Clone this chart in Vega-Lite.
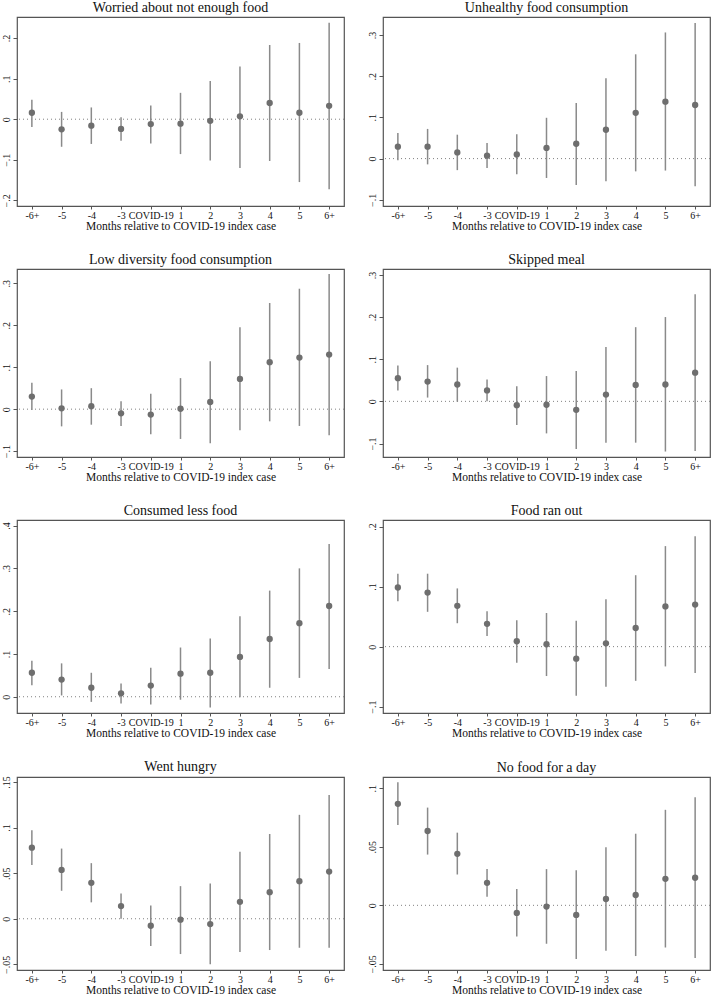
{
  "$schema": "https://vega.github.io/schema/vega-lite/v6.json",
  "padding": {"left": 0, "top": 0, "right": 0, "bottom": 0},
  "background": "white",
  "datasets": {
    "d": [
      {"panel": "worried", "month": "-6+", "coef": 0.016, "lo": -0.019, "hi": 0.048},
      {"panel": "worried", "month": "-5", "coef": -0.025, "lo": -0.068, "hi": 0.018},
      {"panel": "worried", "month": "-4", "coef": -0.016, "lo": -0.061, "hi": 0.029},
      {"panel": "worried", "month": "-3", "coef": -0.024, "lo": -0.053, "hi": 0.005},
      {"panel": "worried", "month": "COVID-19", "coef": -0.012, "lo": -0.060, "hi": 0.034},
      {"panel": "worried", "month": "1", "coef": -0.011, "lo": -0.086, "hi": 0.065},
      {"panel": "worried", "month": "2", "coef": -0.004, "lo": -0.102, "hi": 0.094},
      {"panel": "worried", "month": "3", "coef": 0.007, "lo": -0.120, "hi": 0.130},
      {"panel": "worried", "month": "4", "coef": 0.040, "lo": -0.103, "hi": 0.183},
      {"panel": "worried", "month": "5", "coef": 0.016, "lo": -0.155, "hi": 0.188},
      {"panel": "worried", "month": "6+", "coef": 0.033, "lo": -0.173, "hi": 0.238},

      {"panel": "unhealthy", "month": "-6+", "coef": 0.029, "lo": -0.004, "hi": 0.062},
      {"panel": "unhealthy", "month": "-5", "coef": 0.029, "lo": -0.014, "hi": 0.072},
      {"panel": "unhealthy", "month": "-4", "coef": 0.015, "lo": -0.028, "hi": 0.058},
      {"panel": "unhealthy", "month": "-3", "coef": 0.007, "lo": -0.023, "hi": 0.038},
      {"panel": "unhealthy", "month": "COVID-19", "coef": 0.010, "lo": -0.038, "hi": 0.059},
      {"panel": "unhealthy", "month": "1", "coef": 0.026, "lo": -0.047, "hi": 0.099},
      {"panel": "unhealthy", "month": "2", "coef": 0.036, "lo": -0.064, "hi": 0.135},
      {"panel": "unhealthy", "month": "3", "coef": 0.070, "lo": -0.055, "hi": 0.195},
      {"panel": "unhealthy", "month": "4", "coef": 0.111, "lo": -0.031, "hi": 0.253},
      {"panel": "unhealthy", "month": "5", "coef": 0.138, "lo": -0.029, "hi": 0.306},
      {"panel": "unhealthy", "month": "6+", "coef": 0.130, "lo": -0.067, "hi": 0.329},

      {"panel": "lowdiv", "month": "-6+", "coef": 0.030, "lo": -0.002, "hi": 0.063},
      {"panel": "lowdiv", "month": "-5", "coef": 0.002, "lo": -0.041, "hi": 0.047},
      {"panel": "lowdiv", "month": "-4", "coef": 0.007, "lo": -0.037, "hi": 0.050},
      {"panel": "lowdiv", "month": "-3", "coef": -0.010, "lo": -0.040, "hi": 0.019},
      {"panel": "lowdiv", "month": "COVID-19", "coef": -0.013, "lo": -0.060, "hi": 0.037},
      {"panel": "lowdiv", "month": "1", "coef": 0.001, "lo": -0.071, "hi": 0.074},
      {"panel": "lowdiv", "month": "2", "coef": 0.017, "lo": -0.081, "hi": 0.114},
      {"panel": "lowdiv", "month": "3", "coef": 0.072, "lo": -0.050, "hi": 0.195},
      {"panel": "lowdiv", "month": "4", "coef": 0.112, "lo": -0.029, "hi": 0.253},
      {"panel": "lowdiv", "month": "5", "coef": 0.123, "lo": -0.040, "hi": 0.287},
      {"panel": "lowdiv", "month": "6+", "coef": 0.130, "lo": -0.062, "hi": 0.322},

      {"panel": "skipped", "month": "-6+", "coef": 0.055, "lo": 0.026, "hi": 0.085},
      {"panel": "skipped", "month": "-5", "coef": 0.047, "lo": 0.009, "hi": 0.086},
      {"panel": "skipped", "month": "-4", "coef": 0.040, "lo": -0.001, "hi": 0.080},
      {"panel": "skipped", "month": "-3", "coef": 0.026, "lo": 0.000, "hi": 0.052},
      {"panel": "skipped", "month": "COVID-19", "coef": -0.009, "lo": -0.056, "hi": 0.036},
      {"panel": "skipped", "month": "1", "coef": -0.008, "lo": -0.076, "hi": 0.060},
      {"panel": "skipped", "month": "2", "coef": -0.020, "lo": -0.113, "hi": 0.072},
      {"panel": "skipped", "month": "3", "coef": 0.016, "lo": -0.098, "hi": 0.129},
      {"panel": "skipped", "month": "4", "coef": 0.039, "lo": -0.098, "hi": 0.176},
      {"panel": "skipped", "month": "5", "coef": 0.040, "lo": -0.119, "hi": 0.200},
      {"panel": "skipped", "month": "6+", "coef": 0.068, "lo": -0.118, "hi": 0.254},

      {"panel": "less", "month": "-6+", "coef": 0.056, "lo": 0.027, "hi": 0.084},
      {"panel": "less", "month": "-5", "coef": 0.040, "lo": 0.003, "hi": 0.078},
      {"panel": "less", "month": "-4", "coef": 0.021, "lo": -0.012, "hi": 0.056},
      {"panel": "less", "month": "-3", "coef": 0.008, "lo": -0.016, "hi": 0.031},
      {"panel": "less", "month": "COVID-19", "coef": 0.026, "lo": -0.018, "hi": 0.068},
      {"panel": "less", "month": "1", "coef": 0.054, "lo": -0.007, "hi": 0.115},
      {"panel": "less", "month": "2", "coef": 0.056, "lo": -0.025, "hi": 0.136},
      {"panel": "less", "month": "3", "coef": 0.093, "lo": -0.001, "hi": 0.188},
      {"panel": "less", "month": "4", "coef": 0.135, "lo": 0.021, "hi": 0.248},
      {"panel": "less", "month": "5", "coef": 0.172, "lo": 0.044, "hi": 0.300},
      {"panel": "less", "month": "6+", "coef": 0.212, "lo": 0.065, "hi": 0.357},

      {"panel": "ranout", "month": "-6+", "coef": 0.0985, "lo": 0.0755, "hi": 0.1215},
      {"panel": "ranout", "month": "-5", "coef": 0.090, "lo": 0.058, "hi": 0.1215},
      {"panel": "ranout", "month": "-4", "coef": 0.068, "lo": 0.039, "hi": 0.097},
      {"panel": "ranout", "month": "-3", "coef": 0.038, "lo": 0.0175, "hi": 0.059},
      {"panel": "ranout", "month": "COVID-19", "coef": 0.009, "lo": -0.027, "hi": 0.044},
      {"panel": "ranout", "month": "1", "coef": 0.004, "lo": -0.049, "hi": 0.056},
      {"panel": "ranout", "month": "2", "coef": -0.020, "lo": -0.082, "hi": 0.043},
      {"panel": "ranout", "month": "3", "coef": 0.0055, "lo": -0.067, "hi": 0.079},
      {"panel": "ranout", "month": "4", "coef": 0.031, "lo": -0.057, "hi": 0.119},
      {"panel": "ranout", "month": "5", "coef": 0.067, "lo": -0.033, "hi": 0.1675},
      {"panel": "ranout", "month": "6+", "coef": 0.070, "lo": -0.044, "hi": 0.184},

      {"panel": "hungry", "month": "-6+", "coef": 0.078, "lo": 0.059, "hi": 0.097},
      {"panel": "hungry", "month": "-5", "coef": 0.0536, "lo": 0.0307, "hi": 0.077},
      {"panel": "hungry", "month": "-4", "coef": 0.0394, "lo": 0.018, "hi": 0.061},
      {"panel": "hungry", "month": "-3", "coef": 0.0139, "lo": 0.000, "hi": 0.0277},
      {"panel": "hungry", "month": "COVID-19", "coef": -0.0077, "lo": -0.030, "hi": 0.0146},
      {"panel": "hungry", "month": "1", "coef": -0.001, "lo": -0.0387, "hi": 0.0358},
      {"panel": "hungry", "month": "2", "coef": -0.0058, "lo": -0.050, "hi": 0.0387},
      {"panel": "hungry", "month": "3", "coef": 0.0186, "lo": -0.0365, "hi": 0.0734},
      {"panel": "hungry", "month": "4", "coef": 0.0292, "lo": -0.0343, "hi": 0.093},
      {"panel": "hungry", "month": "5", "coef": 0.0412, "lo": -0.0318, "hi": 0.114},
      {"panel": "hungry", "month": "6+", "coef": 0.0518, "lo": -0.0318, "hi": 0.1358},

      {"panel": "noday", "month": "-6+", "coef": 0.0866, "lo": 0.0685, "hi": 0.105},
      {"panel": "noday", "month": "-5", "coef": 0.0634, "lo": 0.0433, "hi": 0.0834},
      {"panel": "noday", "month": "-4", "coef": 0.0439, "lo": 0.0263, "hi": 0.062},
      {"panel": "noday", "month": "-3", "coef": 0.0192, "lo": 0.0074, "hi": 0.0309},
      {"panel": "noday", "month": "COVID-19", "coef": -0.0065, "lo": -0.0266, "hi": 0.0139},
      {"panel": "noday", "month": "1", "coef": -0.0011, "lo": -0.0328, "hi": 0.0309},
      {"panel": "noday", "month": "2", "coef": -0.0082, "lo": -0.0459, "hi": 0.030},
      {"panel": "noday", "month": "3", "coef": 0.0054, "lo": -0.0388, "hi": 0.0495},
      {"panel": "noday", "month": "4", "coef": 0.0088, "lo": -0.0433, "hi": 0.0611},
      {"panel": "noday", "month": "5", "coef": 0.0226, "lo": -0.036, "hi": 0.0815},
      {"panel": "noday", "month": "6+", "coef": 0.0235, "lo": -0.045, "hi": 0.0923}
    ]
  },
  "data": {"name": "d"},
  "spacing": 19,
  "vconcat": [
    {
      "spacing": 20,
      "hconcat": [
        {
          "title": "Worried about not enough food",
          "width": 327, "height": 189,
          "transform": [{"filter": {"field": "panel", "equal": "worried"}}],
          "layer": [
            {"transform": [{"aggregate": [{"op": "count", "as": "n"}]}],
             "mark": {"type": "rule", "color": "#808080", "strokeWidth": 1, "strokeDash": [1, 3]},
             "encoding": {"y": {"datum": 0, "type": "quantitative", "axis": {"title": null, "values": [-0.2, -0.1, 0, 0.1, 0.2]}}}},
            {"mark": {"type": "rule", "color": "#8a8a8a", "strokeWidth": 1.5},
             "encoding": {
               "x": {"field": "month", "type": "ordinal", "scale": {"type": "point", "padding": 0.5, "domain": ["-6+", "-5", "-4", "-3", "COVID-19", "1", "2", "3", "4", "5", "6+"]}, "axis": {"title": "Months relative to COVID-19 index case"}},
               "y": {"field": "lo", "type": "quantitative", "scale": {"domain": [-0.214, 0.252], "nice": false, "zero": false}, "axis": {"title": null, "values": [-0.2, -0.1, 0, 0.1, 0.2]}},
               "y2": {"field": "hi"}}},
            {"mark": {"type": "circle", "color": "#6e6e6e", "size": 40, "opacity": 1},
             "encoding": {"x": {"field": "month", "type": "ordinal", "axis": {"title": "Months relative to COVID-19 index case"}}, "y": {"field": "coef", "type": "quantitative", "axis": {"title": null, "values": [-0.2, -0.1, 0, 0.1, 0.2]}}}}
          ]
        },
        {
          "title": "Unhealthy food consumption",
          "width": 327, "height": 189,
          "transform": [{"filter": {"field": "panel", "equal": "unhealthy"}}],
          "layer": [
            {"transform": [{"aggregate": [{"op": "count", "as": "n"}]}],
             "mark": {"type": "rule", "color": "#808080", "strokeWidth": 1, "strokeDash": [1, 3]},
             "encoding": {"y": {"datum": 0, "type": "quantitative", "axis": {"title": null, "values": [-0.1, 0, 0.1, 0.2, 0.3]}}}},
            {"mark": {"type": "rule", "color": "#8a8a8a", "strokeWidth": 1.5},
             "encoding": {
               "x": {"field": "month", "type": "ordinal", "scale": {"type": "point", "padding": 0.5, "domain": ["-6+", "-5", "-4", "-3", "COVID-19", "1", "2", "3", "4", "5", "6+"]}, "axis": {"title": "Months relative to COVID-19 index case"}},
               "y": {"field": "lo", "type": "quantitative", "scale": {"domain": [-0.115, 0.3435], "nice": false, "zero": false}, "axis": {"title": null, "values": [-0.1, 0, 0.1, 0.2, 0.3]}},
               "y2": {"field": "hi"}}},
            {"mark": {"type": "circle", "color": "#6e6e6e", "size": 40, "opacity": 1},
             "encoding": {"x": {"field": "month", "type": "ordinal", "axis": {"title": "Months relative to COVID-19 index case"}}, "y": {"field": "coef", "type": "quantitative", "axis": {"title": null, "values": [-0.1, 0, 0.1, 0.2, 0.3]}}}}
          ]
        }
      ]
    },
    {
      "spacing": 20,
      "hconcat": [
        {
          "title": "Low diversity food consumption",
          "width": 327, "height": 188,
          "transform": [{"filter": {"field": "panel", "equal": "lowdiv"}}],
          "layer": [
            {"transform": [{"aggregate": [{"op": "count", "as": "n"}]}],
             "mark": {"type": "rule", "color": "#808080", "strokeWidth": 1, "strokeDash": [1, 3]},
             "encoding": {"y": {"datum": 0, "type": "quantitative", "axis": {"title": null, "values": [-0.1, 0, 0.1, 0.2, 0.3]}}}},
            {"mark": {"type": "rule", "color": "#8a8a8a", "strokeWidth": 1.5},
             "encoding": {
               "x": {"field": "month", "type": "ordinal", "scale": {"type": "point", "padding": 0.5, "domain": ["-6+", "-5", "-4", "-3", "COVID-19", "1", "2", "3", "4", "5", "6+"]}, "axis": {"title": "Months relative to COVID-19 index case"}},
               "y": {"field": "lo", "type": "quantitative", "scale": {"domain": [-0.114, 0.334], "nice": false, "zero": false}, "axis": {"title": null, "values": [-0.1, 0, 0.1, 0.2, 0.3]}},
               "y2": {"field": "hi"}}},
            {"mark": {"type": "circle", "color": "#6e6e6e", "size": 40, "opacity": 1},
             "encoding": {"x": {"field": "month", "type": "ordinal", "axis": {"title": "Months relative to COVID-19 index case"}}, "y": {"field": "coef", "type": "quantitative", "axis": {"title": null, "values": [-0.1, 0, 0.1, 0.2, 0.3]}}}}
          ]
        },
        {
          "title": "Skipped meal",
          "width": 327, "height": 188,
          "transform": [{"filter": {"field": "panel", "equal": "skipped"}}],
          "layer": [
            {"transform": [{"aggregate": [{"op": "count", "as": "n"}]}],
             "mark": {"type": "rule", "color": "#808080", "strokeWidth": 1, "strokeDash": [1, 3]},
             "encoding": {"y": {"datum": 0, "type": "quantitative", "axis": {"title": null, "values": [-0.1, 0, 0.1, 0.2, 0.3]}}}},
            {"mark": {"type": "rule", "color": "#8a8a8a", "strokeWidth": 1.5},
             "encoding": {
               "x": {"field": "month", "type": "ordinal", "scale": {"type": "point", "padding": 0.5, "domain": ["-6+", "-5", "-4", "-3", "COVID-19", "1", "2", "3", "4", "5", "6+"]}, "axis": {"title": "Months relative to COVID-19 index case"}},
               "y": {"field": "lo", "type": "quantitative", "scale": {"domain": [-0.132, 0.314], "nice": false, "zero": false}, "axis": {"title": null, "values": [-0.1, 0, 0.1, 0.2, 0.3]}},
               "y2": {"field": "hi"}}},
            {"mark": {"type": "circle", "color": "#6e6e6e", "size": 40, "opacity": 1},
             "encoding": {"x": {"field": "month", "type": "ordinal", "axis": {"title": "Months relative to COVID-19 index case"}}, "y": {"field": "coef", "type": "quantitative", "axis": {"title": null, "values": [-0.1, 0, 0.1, 0.2, 0.3]}}}}
          ]
        }
      ]
    },
    {
      "spacing": 20,
      "hconcat": [
        {
          "title": "Consumed less food",
          "width": 327, "height": 193,
          "transform": [{"filter": {"field": "panel", "equal": "less"}}],
          "layer": [
            {"transform": [{"aggregate": [{"op": "count", "as": "n"}]}],
             "mark": {"type": "rule", "color": "#808080", "strokeWidth": 1, "strokeDash": [1, 3]},
             "encoding": {"y": {"datum": 0, "type": "quantitative", "axis": {"title": null, "values": [0, 0.1, 0.2, 0.3, 0.4]}}}},
            {"mark": {"type": "rule", "color": "#8a8a8a", "strokeWidth": 1.5},
             "encoding": {
               "x": {"field": "month", "type": "ordinal", "scale": {"type": "point", "padding": 0.5, "domain": ["-6+", "-5", "-4", "-3", "COVID-19", "1", "2", "3", "4", "5", "6+"]}, "axis": {"title": "Months relative to COVID-19 index case"}},
               "y": {"field": "lo", "type": "quantitative", "scale": {"domain": [-0.038, 0.413], "nice": false, "zero": false}, "axis": {"title": null, "values": [0, 0.1, 0.2, 0.3, 0.4]}},
               "y2": {"field": "hi"}}},
            {"mark": {"type": "circle", "color": "#6e6e6e", "size": 40, "opacity": 1},
             "encoding": {"x": {"field": "month", "type": "ordinal", "axis": {"title": "Months relative to COVID-19 index case"}}, "y": {"field": "coef", "type": "quantitative", "axis": {"title": null, "values": [0, 0.1, 0.2, 0.3, 0.4]}}}}
          ]
        },
        {
          "title": "Food ran out",
          "width": 327, "height": 193,
          "transform": [{"filter": {"field": "panel", "equal": "ranout"}}],
          "layer": [
            {"transform": [{"aggregate": [{"op": "count", "as": "n"}]}],
             "mark": {"type": "rule", "color": "#808080", "strokeWidth": 1, "strokeDash": [1, 3]},
             "encoding": {"y": {"datum": 0, "type": "quantitative", "axis": {"title": null, "values": [-0.1, 0, 0.1, 0.2]}}}},
            {"mark": {"type": "rule", "color": "#8a8a8a", "strokeWidth": 1.5},
             "encoding": {
               "x": {"field": "month", "type": "ordinal", "scale": {"type": "point", "padding": 0.5, "domain": ["-6+", "-5", "-4", "-3", "COVID-19", "1", "2", "3", "4", "5", "6+"]}, "axis": {"title": "Months relative to COVID-19 index case"}},
               "y": {"field": "lo", "type": "quantitative", "scale": {"domain": [-0.1106, 0.211], "nice": false, "zero": false}, "axis": {"title": null, "values": [-0.1, 0, 0.1, 0.2]}},
               "y2": {"field": "hi"}}},
            {"mark": {"type": "circle", "color": "#6e6e6e", "size": 40, "opacity": 1},
             "encoding": {"x": {"field": "month", "type": "ordinal", "axis": {"title": "Months relative to COVID-19 index case"}}, "y": {"field": "coef", "type": "quantitative", "axis": {"title": null, "values": [-0.1, 0, 0.1, 0.2]}}}}
          ]
        }
      ]
    },
    {
      "spacing": 20,
      "hconcat": [
        {
          "title": "Went hungry",
          "width": 327, "height": 193,
          "transform": [{"filter": {"field": "panel", "equal": "hungry"}}],
          "layer": [
            {"transform": [{"aggregate": [{"op": "count", "as": "n"}]}],
             "mark": {"type": "rule", "color": "#808080", "strokeWidth": 1, "strokeDash": [1, 3]},
             "encoding": {"y": {"datum": 0, "type": "quantitative", "axis": {"title": null, "values": [-0.05, 0, 0.05, 0.1, 0.15]}}}},
            {"mark": {"type": "rule", "color": "#8a8a8a", "strokeWidth": 1.5},
             "encoding": {
               "x": {"field": "month", "type": "ordinal", "scale": {"type": "point", "padding": 0.5, "domain": ["-6+", "-5", "-4", "-3", "COVID-19", "1", "2", "3", "4", "5", "6+"]}, "axis": {"title": "Months relative to COVID-19 index case"}},
               "y": {"field": "lo", "type": "quantitative", "scale": {"domain": [-0.0562, 0.1555], "nice": false, "zero": false}, "axis": {"title": null, "values": [-0.05, 0, 0.05, 0.1, 0.15]}},
               "y2": {"field": "hi"}}},
            {"mark": {"type": "circle", "color": "#6e6e6e", "size": 40, "opacity": 1},
             "encoding": {"x": {"field": "month", "type": "ordinal", "axis": {"title": "Months relative to COVID-19 index case"}}, "y": {"field": "coef", "type": "quantitative", "axis": {"title": null, "values": [-0.05, 0, 0.05, 0.1, 0.15]}}}}
          ]
        },
        {
          "title": "No food for a day",
          "width": 327, "height": 193,
          "transform": [{"filter": {"field": "panel", "equal": "noday"}}],
          "layer": [
            {"transform": [{"aggregate": [{"op": "count", "as": "n"}]}],
             "mark": {"type": "rule", "color": "#808080", "strokeWidth": 1, "strokeDash": [1, 3]},
             "encoding": {"y": {"datum": 0, "type": "quantitative", "axis": {"title": null, "values": [-0.05, 0, 0.05, 0.1]}}}},
            {"mark": {"type": "rule", "color": "#8a8a8a", "strokeWidth": 1.5},
             "encoding": {
               "x": {"field": "month", "type": "ordinal", "scale": {"type": "point", "padding": 0.5, "domain": ["-6+", "-5", "-4", "-3", "COVID-19", "1", "2", "3", "4", "5", "6+"]}, "axis": {"title": "Months relative to COVID-19 index case"}},
               "y": {"field": "lo", "type": "quantitative", "scale": {"domain": [-0.0552, 0.1095], "nice": false, "zero": false}, "axis": {"title": null, "values": [-0.05, 0, 0.05, 0.1]}},
               "y2": {"field": "hi"}}},
            {"mark": {"type": "circle", "color": "#6e6e6e", "size": 40, "opacity": 1},
             "encoding": {"x": {"field": "month", "type": "ordinal", "axis": {"title": "Months relative to COVID-19 index case"}}, "y": {"field": "coef", "type": "quantitative", "axis": {"title": null, "values": [-0.05, 0, 0.05, 0.1]}}}}
          ]
        }
      ]
    }
  ],
  "config": {
    "font": "Liberation Serif",
    "view": {"stroke": "#555555", "strokeWidth": 1.2},
    "axis": {
      "domain": false, "grid": false,
      "labelFont": "Liberation Serif", "labelFontSize": 10, "labelColor": "#111111",
      "titleFont": "Liberation Serif", "titleFontSize": 11.5, "titleFontWeight": "normal", "titleColor": "#111111",
      "tickColor": "#555555", "tickSize": 4
    },
    "axisX": {"labelAngle": 0, "tickSize": 3, "labelPadding": 1, "titlePadding": 0},
    "axisY": {"labelAngle": -90, "labelPadding": 2, "labelExpr": "replace(format(datum.value, '.2~f'), '0.', '.')"},
    "title": {"font": "Liberation Serif", "fontSize": 14, "fontWeight": "normal", "color": "#111111", "offset": 2}
  }
}
